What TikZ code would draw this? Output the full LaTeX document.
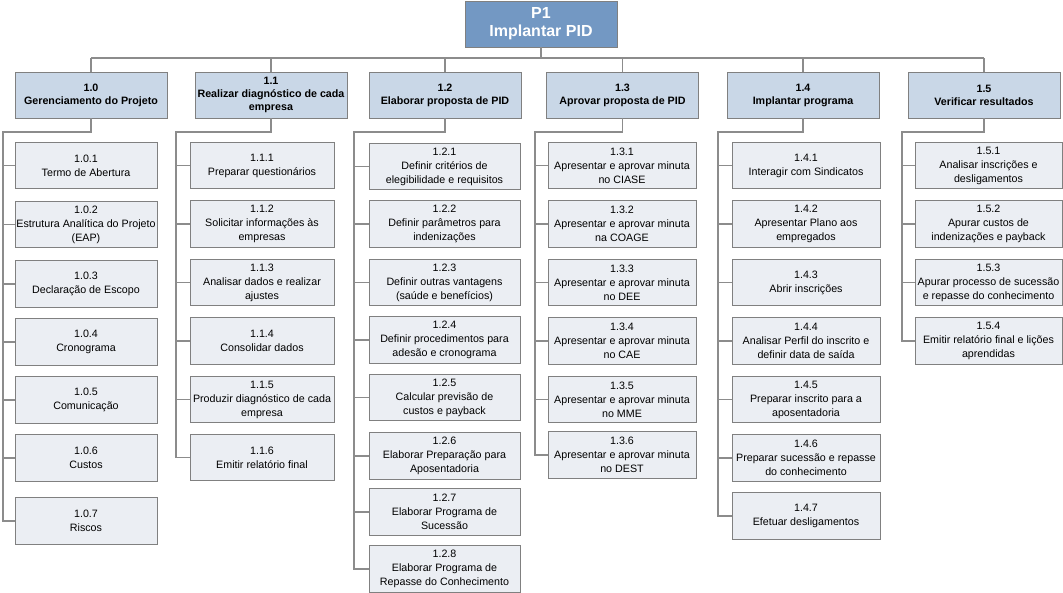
\documentclass[tikz,border=0pt]{standalone}
\usepackage{fontspec}
\setmainfont{Liberation Sans}
\definecolor{topfill}{HTML}{7398C3}
\definecolor{headfill}{HTML}{C9D7E7}
\definecolor{childfill}{HTML}{EBEEF3}
\definecolor{boxline}{HTML}{808080}
\definecolor{linec}{HTML}{8C8C8C}
\tikzset{
  topbox/.style={draw=boxline, line width=0.8pt, fill=topfill, text=white, align=center,
    minimum width=152pt, minimum height=46pt, inner sep=1pt,
    font=\fontsize{16}{18}\selectfont\bfseries},
  headbox/.style={draw=boxline, line width=0.8pt, fill=headfill, align=center,
    minimum width=152pt, minimum height=46pt, inner sep=1pt,
    font=\fontsize{10.7}{13}\selectfont\bfseries},
  childbox/.style={draw=boxline, line width=0.8pt, fill=childfill, align=center,
    minimum height=46.5pt, inner sep=1pt,
    font=\fontsize{10.7}{14}\selectfont},
  cA/.style={childbox, minimum width=142pt},
  cB/.style={childbox, minimum width=144pt},
  cC/.style={childbox, minimum width=151pt},
  cD/.style={childbox, minimum width=148pt},
  cE/.style={childbox, minimum width=148pt},
  cF/.style={childbox, minimum width=147pt},
  conn/.style={draw=linec, line width=1.5pt},
}
\begin{document}
\begin{tikzpicture}[x=1pt,y=-1pt]
\useasboundingbox (0,0) rectangle (1063,592);
% top
\node[topbox] (p1) at (541,24) {P1\\Implantar PID};
% headers
\node[headbox] (h0) at (91,95) {1.0\\Gerenciamento do Projeto};
\node[headbox] (h1) at (271,95) {1.1\\Realizar diagnóstico de cada\\empresa};
\node[headbox] (h2) at (445,95) {1.2\\Elaborar proposta de PID};
\node[headbox] (h3) at (622.5,95) {1.3\\Aprovar proposta de PID};
\node[headbox] (h4) at (803,95) {1.4\\Implantar programa};
\node[headbox] (h5) at (984,95) {1.5\\Verificar resultados};
% column 1.0
\node[cA] (a1) at (86,165.5) {1.0.1\\Termo de Abertura};
\node[cA] (a2) at (86,224.5) {1.0.2\\Estrutura Analítica do Projeto\\(EAP)};
\node[cA] (a3) at (86,284) {1.0.3\\Declaração de Escopo};
\node[cA] (a4) at (86,342) {1.0.4\\Cronograma};
\node[cA] (a5) at (86,400) {1.0.5\\Comunicação};
\node[cA] (a6) at (86,458) {1.0.6\\Custos};
\node[cA] (a7) at (86,521) {1.0.7\\Riscos};
% column 1.1
\node[cB] (b1) at (262,165.5) {1.1.1\\Preparar questionários};
\node[cB] (b2) at (262,224) {1.1.2\\Solicitar informações às\\empresas};
\node[cB] (b3) at (262,282.5) {1.1.3\\Analisar dados e realizar\\ajustes};
\node[cB] (b4) at (262,341) {1.1.4\\Consolidar dados};
\node[cB] (b5) at (262,399.5) {1.1.5\\Produzir diagnóstico de cada\\empresa};
\node[cB] (b6) at (262,457.5) {1.1.6\\Emitir relatório final};
% column 1.2
\node[cC] (c1) at (444.5,166.5) {1.2.1\\Definir critérios de\\elegibilidade e requisitos};
\node[cC] (c2) at (444.5,224) {1.2.2\\Definir parâmetros para\\indenizações};
\node[cC] (c3) at (444.5,282.5) {1.2.3\\Definir outras vantagens\\(saúde e benefícios)};
\node[cC] (c4) at (444.5,340) {1.2.4\\Definir procedimentos para\\adesão e cronograma};
\node[cC] (c5) at (444.5,397.5) {1.2.5\\Calcular previsão de\\custos e payback};
\node[cC] (c6) at (444.5,456) {1.2.6\\Elaborar Preparação para\\Aposentadoria};
\node[cC] (c7) at (444.5,512) {1.2.7\\Elaborar Programa de\\Sucessão};
\node[cC] (c8) at (444.5,569) {1.2.8\\Elaborar Programa de\\Repasse do Conhecimento};
% column 1.3
\node[cD] (d1) at (622,165.5) {1.3.1\\Apresentar e aprovar minuta\\no CIASE};
\node[cD] (d2) at (622,224) {1.3.2\\Apresentar e aprovar minuta\\na COAGE};
\node[cD] (d3) at (622,282.5) {1.3.3\\Apresentar e aprovar minuta\\no DEE};
\node[cD] (d4) at (622,341) {1.3.4\\Apresentar e aprovar minuta\\no CAE};
\node[cD] (d5) at (622,399.5) {1.3.5\\Apresentar e aprovar minuta\\no MME};
\node[cD] (d6) at (622,455) {1.3.6\\Apresentar e aprovar minuta\\no DEST};
% column 1.4
\node[cE] (e1) at (806,165.5) {1.4.1\\Interagir com Sindicatos};
\node[cE] (e2) at (806,224) {1.4.2\\Apresentar Plano aos\\empregados};
\node[cE] (e3) at (806,282.5) {1.4.3\\Abrir inscrições};
\node[cE] (e4) at (806,341) {1.4.4\\Analisar Perfil do inscrito e\\definir data de saída};
\node[cE] (e5) at (806,399.5) {1.4.5\\Preparar inscrito para a\\aposentadoria};
\node[cE] (e6) at (806,458) {1.4.6\\Preparar sucessão e repasse\\do conhecimento};
\node[cE] (e7) at (806,516) {1.4.7\\Efetuar desligamentos};
% column 1.5
\node[cF] (f1) at (988.5,165.5) {1.5.1\\Analisar inscrições e\\desligamentos};
\node[cF] (f2) at (988.5,224) {1.5.2\\Apurar custos de\\indenizações e payback};
\node[cF] (f3) at (988.5,282.5) {1.5.3\\Apurar processo de sucessão\\e repasse do conhecimento};
\node[cF] (f4) at (988.5,341) {1.5.4\\Emitir relatório final e lições\\aprendidas};
% bus
\coordinate (bus) at (0,58);
\begin{scope}[on background layer/.style={}]
\draw[conn] (p1.south) -- (p1.south |- bus);
\draw[conn] (h0.north |- bus) -- (h5.north |- bus);
\foreach \h in {h0,h1,h2,h3,h4,h5} \draw[conn] (\h.north |- bus) -- (\h.north);
% spines
\coordinate (s0) at (3,132);
\coordinate (s1) at (176,132);
\coordinate (s2) at (354,132);
\coordinate (s3) at (535,132);
\coordinate (s4) at (718,132);
\coordinate (s5) at (902,132);
\draw[conn] (h0.south) -- (h0.south |- s0) -- (s0) |- (a7.west);
\draw[conn] (h1.south) -- (h1.south |- s1) -- (s1) |- (b6.west);
\draw[conn] (h2.south) -- (h2.south |- s2) -- (s2) |- (c8.west);
\draw[conn] (h3.south) -- (h3.south |- s3) -- (s3) |- (d6.west);
\draw[conn] (h4.south) -- (h4.south |- s4) -- (s4) |- (e7.west);
\draw[conn] (h5.south) -- (h5.south |- s5) -- (s5) |- (f4.west);
\foreach \n in {a1,a2,a3,a4,a5,a6} \draw[conn] (s0 |- \n.west) -- (\n.west);
\foreach \n in {b1,b2,b3,b4,b5} \draw[conn] (s1 |- \n.west) -- (\n.west);
\foreach \n in {c1,c2,c3,c4,c5,c6,c7} \draw[conn] (s2 |- \n.west) -- (\n.west);
\foreach \n in {d1,d2,d3,d4,d5} \draw[conn] (s3 |- \n.west) -- (\n.west);
\foreach \n in {e1,e2,e3,e4,e5,e6} \draw[conn] (s4 |- \n.west) -- (\n.west);
\foreach \n in {f1,f2,f3} \draw[conn] (s5 |- \n.west) -- (\n.west);
\end{scope}
\end{tikzpicture}
\end{document}
